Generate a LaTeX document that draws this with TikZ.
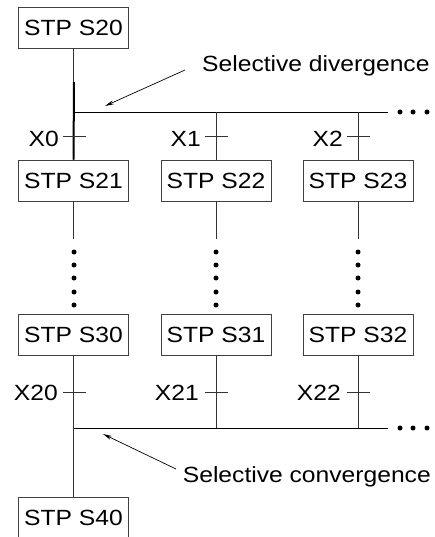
\documentclass[tikz,border=0pt]{standalone}
\usepackage{fontspec}
\setmainfont{Liberation Sans}[FakeStretch=1.12]
\usetikzlibrary{arrows.meta}
\begin{document}
\begin{tikzpicture}[x=1pt,y=-1pt,
  stepbox/.style={draw=black!75,line width=0.9pt,minimum width=110pt,minimum height=41pt,inner sep=0pt,font=\fontsize{22}{26}\selectfont},
  lbl/.style={inner sep=0pt,font=\fontsize{22}{26}\selectfont},
  wire/.style={draw=black!80,line width=0.9pt},
  bus/.style={draw=black,line width=0.9pt},
  dot/.style={circle,fill=black,inner sep=0pt,minimum size=5pt},
  pointer/.style={draw=black,line width=0.7pt,-{Stealth[length=9pt,width=4pt]}}]
\useasboundingbox (0,0) rectangle (434,537);
% boxes
\node[stepbox] (s20) at (73.5,27.5) {STP S20};
\node[stepbox] (s21) at (73.5,180.5) {STP S21};
\node[stepbox] (s22) at (216,180.5) {STP S22};
\node[stepbox] (s23) at (358,180.5) {STP S23};
\node[stepbox] (s30) at (73.5,334.5) {STP S30};
\node[stepbox] (s31) at (216,334.5) {STP S31};
\node[stepbox] (s32) at (358,334.5) {STP S32};
\node[stepbox] (s40) at (73.5,517.5) {STP S40};
% divergence
\coordinate (dl) at (74,112);
\coordinate (dr) at (388,112);
\coordinate (thk) at (74,82);
\draw[wire] (s20.south) -- (s21.north);
\draw[draw=black,line width=2pt] (thk) -- (s21.north);
\draw[bus] (dl) -- (dr);
\draw[wire] (s22.north |- dl) -- (s22.north);
\draw[wire] (s23.north |- dl) -- (s23.north);
\node[dot] (dd1) at (400,112) {};
\node[dot] (dd2) at (413,112) {};
\node[dot] (dd3) at (427,112) {};
% ticks divergence
\coordinate (t0a) at (63,136); \coordinate (t0b) at (86,136);
\coordinate (t1a) at (205,136); \coordinate (t1b) at (228,136);
\coordinate (t2a) at (347,136); \coordinate (t2b) at (370,136);
\draw[wire] (t0a) -- (t0b);
\draw[wire] (t1a) -- (t1b);
\draw[wire] (t2a) -- (t2b);
\node[lbl,anchor=base east] (x0) at (59,147) {X0};
\node[lbl,anchor=base east] (x1) at (201,147) {X1};
\node[lbl,anchor=base east] (x2) at (343,147) {X2};
% vertical dotted sections
\draw[wire] (s21.south) -- ++(0,38);
\draw[wire] (s22.south) -- ++(0,38);
\draw[wire] (s23.south) -- ++(0,38);
\foreach \xx in {74,216,358}{
  \foreach \yy in {252,265,278,292,305}{
    \node[dot] at (\xx,\yy) {};
  }
}
% convergence
\coordinate (cl) at (74,428);
\coordinate (cr) at (388,428);
\draw[wire] (s30.south) -- (s40.north);
\draw[wire] (s31.south) -- (s31.south |- cl);
\draw[wire] (s32.south) -- (s32.south |- cl);
\draw[bus] (cl) -- (cr);
\node[dot] (cd1) at (400,428) {};
\node[dot] (cd2) at (413,428) {};
\node[dot] (cd3) at (427,428) {};
\coordinate (u0a) at (63,392); \coordinate (u0b) at (86,392);
\coordinate (u1a) at (205,392); \coordinate (u1b) at (228,392);
\coordinate (u2a) at (347,392); \coordinate (u2b) at (370,392);
\draw[wire] (u0a) -- (u0b);
\draw[wire] (u1a) -- (u1b);
\draw[wire] (u2a) -- (u2b);
\node[lbl,anchor=base east] (x20) at (58,400) {X20};
\node[lbl,anchor=base east] (x21) at (199,400) {X21};
\node[lbl,anchor=base east] (x22) at (341,400) {X22};
% annotations
\node[lbl,anchor=base west] (seldiv) at (202,72) {Selective divergence};
\coordinate (da) at (185,70);
\coordinate (db) at (105,106);
\draw[pointer] (da) -- (db);
\node[lbl,anchor=base east] (selcon) at (431,482) {Selective convergence};
\coordinate (ca) at (176,469);
\coordinate (cb) at (103,434);
\draw[pointer] (ca) -- (cb);
\end{tikzpicture}
\end{document}
